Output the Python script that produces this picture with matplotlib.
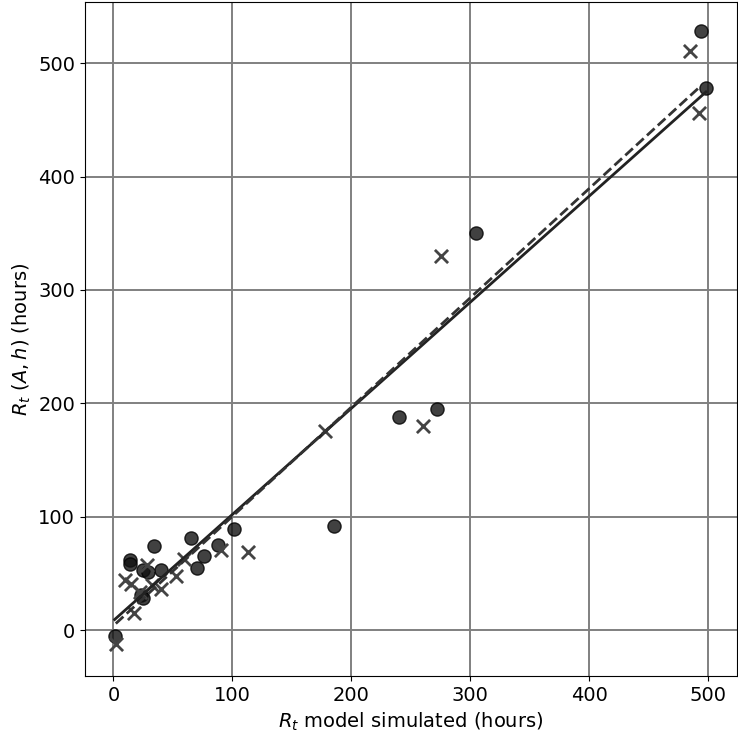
import numpy as np
import matplotlib.pyplot as plt

# --------------------------
# Data
# --------------------------
circ_x = [1, 14, 14, 23, 25, 25, 29, 34, 40, 65, 70, 76, 88, 101, 185, 240, 272, 305, 494, 498]
circ_y = [-5, 62, 58, 31, 28, 53, 51, 74, 53, 81, 55, 65, 75, 89, 92, 188, 195, 350, 528, 478]

cross_x = [2, 10, 15, 17, 22, 28, 32, 40, 53, 59, 90, 113, 178, 260, 275, 485, 492]
cross_y = [-12, 44, 41, 15, 34, 57, 40, 36, 48, 63, 71, 69, 176, 180, 330, 511, 456]

# --------------------------
# Linear fits
# --------------------------
circ_x = np.array(circ_x, dtype=float)
circ_y = np.array(circ_y, dtype=float)
cross_x = np.array(cross_x, dtype=float)
cross_y = np.array(cross_y, dtype=float)

p_circ = np.polyfit(circ_x, circ_y, 1)
p_cross = np.polyfit(cross_x, cross_y, 1)

xs_c = np.array([circ_x.min(), circ_x.max()])
xs_x = np.array([cross_x.min(), cross_x.max()])

plt.rcParams['font.size'] = 14

fig = plt.figure(figsize=(7.38, 7.36), dpi=100)
ax = fig.add_axes([0.115, 0.0815, 0.8835, 0.9158])

ax.scatter(circ_x, circ_y, s=90, color='#111111', alpha=0.8, edgecolors='black',
           linewidths=1, zorder=3)
ax.scatter(cross_x, cross_y, s=90, marker='x', color='#444444', linewidths=2, zorder=3)

ax.plot(xs_c, np.polyval(p_circ, xs_c), '-', color='#222222', linewidth=2, zorder=4)
ax.plot(xs_x, np.polyval(p_cross, xs_x), '--', color='#333333', linewidth=2, zorder=4)

ax.set_xlim(-24, 524)
ax.set_ylim(-40.5, 554)
ax.set_xticks([0, 100, 200, 300, 400, 500])
ax.set_yticks([0, 100, 200, 300, 400, 500])
ax.grid(True, color='#808080', linewidth=1.4)
ax.set_axisbelow(True)

ax.set_xlabel(r'$R_t$ model simulated (hours)')
ax.set_ylabel(r'$R_t\ (A, h)$ (hours)')

fig.savefig('out.png', dpi=100)
